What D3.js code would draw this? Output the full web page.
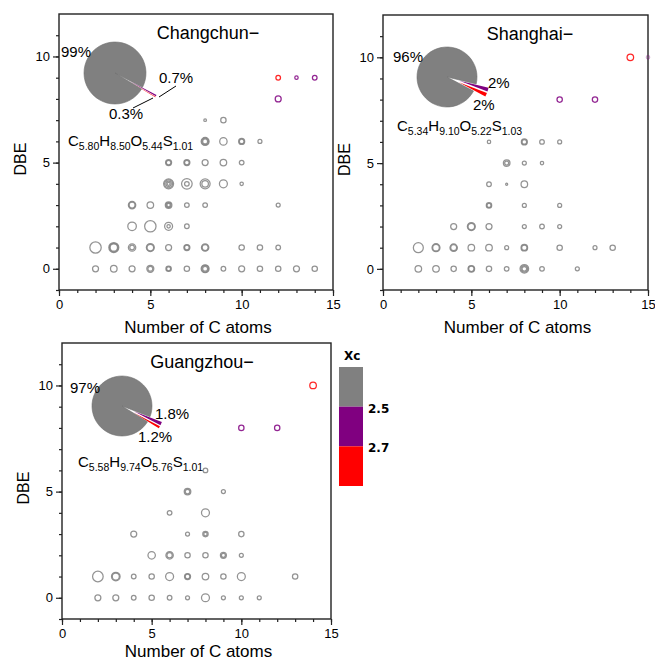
<!DOCTYPE html>
<html>
<head>
<meta charset="utf-8">
<title>DBE vs C atoms</title>
<script src="https://d3js.org/d3.v7.min.js"></script>
<style>
  body { margin: 0; background: #fff; }
  svg { font-family: "Liberation Sans", Arial, sans-serif; }
</style>
</head>
<body>
<script>
// [C atoms, DBE, relative intensity, Xc]
const changchunPoints = [
  [2,0,25,2.3],[3,0,30,2.3],[4,0,25,2.3],[5,0,34,2.3],[5,0,17,2.3],[6,0,20,2.3],[6,0,11,2.3],[7,0,20,2.3],
  [8,0,44,2.3],[8,0,30,2.3],[8,0,17,2.3],[9,0,15,2.3],[10,0,25,2.3],[11,0,20,2.3],[12,0,20,2.3],[13,0,25,2.3],[14,0,20,2.3],
  [2,1,90,2.3],[3,1,69,2.3],[3,1,51,2.3],[3,1,38,2.3],[4,1,38,2.3],[4,1,15,2.3],[5,1,44,2.3],[5,1,30,2.3],
  [6,1,25,2.3],[7,1,25,2.3],[7,1,15,2.3],[8,1,38,2.3],[8,1,25,2.3],[10,1,20,2.3],[11,1,20,2.3],[12,1,15,2.3],
  [4,2,51,2.3],[5,2,90,2.3],[6,2,44,2.3],[6,2,8,2.3],[7,2,15,2.3],
  [4,3,38,2.3],[4,3,25,2.3],[5,3,30,2.3],[6,3,30,2.3],[6,3,17,2.3],[6,3,8,2.3],[7,3,15,2.3],[8,3,15,2.3],[12,3,11,2.3],
  [6,4,69,2.3],[6,4,44,2.3],[6,4,20,2.3],[6,4,6,2.3],[7,4,78,2.3],[7,4,15,2.3],[8,4,69,2.3],[8,4,30,2.3],[9,4,44,2.3],[10,4,8,2.3],
  [6,5,25,2.3],[6,5,15,2.3],[7,5,25,2.3],[7,5,15,2.3],[8,5,25,2.3],[9,5,30,2.3],[10,5,15,2.3],
  [8,6,44,2.3],[8,6,30,2.3],[8,6,17,2.3],[9,6,38,2.3],[10,6,25,2.3],[10,6,15,2.3],[11,6,11,2.3],
  [8,7,5,2.3],[9,7,20,2.3],
  [12,8,25,2.6],
  [12,9,15,2.8],[13,9,8,2.6],[14,9,15,2.6]
];
const shanghaiPoints = [
  [2,0,30,2.3],[3,0,30,2.3],[4,0,20,2.3],[5,0,30,2.3],[5,0,20,2.3],[6,0,20,2.3],[7,0,15,2.3],[8,0,51,2.3],[8,0,30,2.3],[8,0,15,2.3],[9,0,15,2.3],[11,0,11,2.3],
  [2,1,69,2.3],[3,1,44,2.3],[3,1,30,2.3],[4,1,38,2.3],[4,1,25,2.3],[5,1,30,2.3],[6,1,30,2.3],[7,1,11,2.3],[8,1,30,2.3],[8,1,20,2.3],[10,1,20,2.3],[12,1,11,2.3],[13,1,20,2.3],
  [4,2,25,2.3],[5,2,44,2.3],[5,2,30,2.3],[6,2,25,2.3],[8,2,11,2.3],[9,2,15,2.3],[10,2,11,2.3],
  [6,3,20,2.3],[6,3,11,2.3],[8,3,11,2.3],[10,3,11,2.3],
  [6,4,15,2.3],[7,4,3,2.3],[8,4,30,2.3],
  [7,5,30,2.3],[7,5,11,2.3],[8,5,11,2.3],[9,5,8,2.3],
  [6,6,8,2.3],[8,6,25,2.3],[8,6,15,2.3],[9,6,15,2.3],[10,6,11,2.3],
  [10,8,20,2.6],[12,8,20,2.6],
  [14,10,30,2.8],[15,10,8,2.6]
];
const guangzhouPoints = [
  [2,0,25,2.3],[3,0,25,2.3],[4,0,15,2.3],[5,0,20,2.3],[6,0,15,2.3],[7,0,11,2.3],[8,0,44,2.3],[9,0,11,2.3],[10,0,11,2.3],[11,0,11,2.3],
  [2,1,78,2.3],[3,1,51,2.3],[3,1,34,2.3],[4,1,15,2.3],[5,1,20,2.3],[6,1,44,2.3],[7,1,25,2.3],[7,1,15,2.3],[8,1,30,2.3],[9,1,20,2.3],[10,1,44,2.3],[13,1,20,2.3],
  [5,2,38,2.3],[6,2,38,2.3],[6,2,20,2.3],[7,2,20,2.3],[8,2,20,2.3],[9,2,25,2.3],[9,2,11,2.3],[10,2,11,2.3],
  [4,3,25,2.3],[7,3,11,2.3],[8,3,20,2.3],[8,3,8,2.3],[10,3,20,2.3],
  [6,4,15,2.3],[8,4,44,2.3],
  [7,5,30,2.3],[7,5,15,2.3],[9,5,11,2.3],
  [8,6,15,2.3],
  [10,8,20,2.6],[12,8,20,2.6],
  [14,10,30,2.8]
];

// pie shares (%) : Xc<2.5, 2.5-2.7, >2.7
const changchunPie = [99, 0.7, 0.3];
const shanghaiPie = [96, 2, 2];
const guangzhouPie = [97, 1.8, 1.2];

// average formulas [element, subscript]
const changchunFormula = [["C","5.80"],["H","8.50"],["O","5.44"],["S","1.01"]];
const shanghaiFormula = [["C","5.34"],["H","9.10"],["O","5.22"],["S","1.03"]];
const guangzhouFormula = [["C","5.58"],["H","9.74"],["O","5.76"],["S","1.01"]];

const xTicks = [0, 5, 10, 15];
const yTicks = [0, 5, 10];
const xcBreaks = [2.5, 2.7];
const xcColors = ["#808080", "#800080", "#ff0000"];

const W = 655, H = 661;
const svg = d3.select("body").append("svg").attr("width", W).attr("height", H);

const color = d3.scaleThreshold().domain(xcBreaks).range(xcColors);
const rScale = d3.scaleSqrt().domain([0, 100]).range([0, 6]);

function drawPanel(p) {
  const x = d3.scaleLinear().domain([0, 15]).range([p.left, p.right]);
  const y = d3.scaleLinear().domain([-1, 12]).range([p.bottom, p.top]);
  const g = svg.append("g");

  // minor + major ticks
  g.append("g").attr("transform", `translate(0,${p.bottom})`)
    .call(d3.axisBottom(x).tickValues(d3.range(0, 16)).tickSize(3).tickFormat(""))
    .call(a => a.select(".domain").remove());
  g.append("g").attr("transform", `translate(0,${p.bottom})`)
    .call(d3.axisBottom(x).tickValues(xTicks).tickSize(6).tickPadding(4))
    .call(a => a.select(".domain").remove())
    .call(a => a.selectAll("text").attr("font-size", 13).attr("fill", "#000").attr("font-family", "Liberation Sans, Arial"));
  g.append("g").attr("transform", `translate(${p.left},0)`)
    .call(d3.axisLeft(y).tickValues(d3.range(-1, 12)).tickSize(3).tickFormat(""))
    .call(a => a.select(".domain").remove());
  g.append("g").attr("transform", `translate(${p.left},0)`)
    .call(d3.axisLeft(y).tickValues(yTicks).tickSize(6).tickPadding(3))
    .call(a => a.select(".domain").remove())
    .call(a => a.selectAll("text").attr("font-size", 13).attr("fill", "#000").attr("font-family", "Liberation Sans, Arial"));
  g.selectAll(".tick line").attr("stroke", "#222").attr("stroke-width", 1.2);

  g.append("rect")
    .attr("x", p.left).attr("y", p.top)
    .attr("width", p.right - p.left).attr("height", p.bottom - p.top)
    .attr("fill", "none").attr("stroke", "#222").attr("stroke-width", 1.4);

  // bubbles
  g.append("g").selectAll("circle")
    .data(p.points)
    .join("circle")
    .attr("cx", d => x(d[0]))
    .attr("cy", d => y(d[1]))
    .attr("r", d => rScale(d[2]))
    .attr("fill", "none")
    .attr("stroke", d => color(d[3]))
    .attr("stroke-opacity", d => d[0] > 14 ? 0.35 : 0.85)
    .attr("stroke-width", 1.25);

  // title
  g.append("text").attr("x", p.titleX).attr("y", p.top + 25)
    .attr("text-anchor", "middle").attr("font-size", 18).text(p.title);

  // axis titles
  g.append("text").attr("x", (p.left + p.right) / 2 + 2).attr("y", p.bottom + p.xTitleGap)
    .attr("text-anchor", "middle").attr("font-size", 17).text("Number of C atoms");
  g.append("text")
    .attr("transform", `translate(${p.left - 33},${(p.top + p.bottom) / 2 + 7}) rotate(-90)`)
    .attr("text-anchor", "middle").attr("font-size", 16).text("DBE");

  // pie
  const pie = d3.pie().sort(null).value(d => d)
    .startAngle(p.pieStart).endAngle(p.pieStart + 2 * Math.PI);
  const slices = pie([p.pie[1], p.pie[2], p.pie[0]]);
  const sliceColors = [xcColors[1], xcColors[2], xcColors[0]];
  const arc = d3.arc().innerRadius(0).outerRadius(p.pieR);
  const pg = g.append("g").attr("transform", `translate(${p.cx},${p.cy})`);
  pg.selectAll("path")
    .data(slices)
    .join("path")
    .attr("d", arc)
    .attr("transform", (d, i) => {
      if (i === 2) return null;
      const a = (d.startAngle + d.endAngle) / 2;
      return `translate(${Math.sin(a) * p.explode},${-Math.cos(a) * p.explode})`;
    })
    .attr("fill", (d, i) => sliceColors[i])
    .attr("stroke", (d, i) => i === 2 ? "#6e6e6e" : "none")
    .attr("stroke-width", 0.6);

  const labelVals = [p.pie[0], p.pie[1], p.pie[2]];
  p.pieLabels.forEach((o, i) => {
    pg.append("text").attr("x", o[0]).attr("y", o[1])
      .attr("font-size", 15).text(labelVals[i] + "%");
  });
  (p.leaders || []).forEach(l => {
    pg.append("line").attr("x1", l[0]).attr("y1", l[1]).attr("x2", l[2]).attr("y2", l[3])
      .attr("stroke", "#000").attr("stroke-width", 1);
  });

  // formula
  const ft = g.append("text").attr("x", p.fx).attr("y", p.fy).attr("font-size", 15);
  p.formula.forEach((f, i) => {
    ft.append("tspan").attr("dy", i === 0 ? 0 : -4).text(f[0]);
    ft.append("tspan").attr("font-size", 10.5).attr("dy", 4).text(f[1]);
  });
}

const deg = Math.PI / 180;

drawPanel({
  title: "Changchun\u2212", titleX: 208,
  left: 59, right: 333, top: 14, bottom: 290, xTitleGap: 43,
  points: changchunPoints, pie: changchunPie,
  cx: 115, cy: 73, pieR: 31, explode: 16, pieStart: 117.5 * deg,
  pieLabels: [[-54, -16], [44, 10], [-6, 46]],
  leaders: [[44, 24, 61, 13], [38, 25, 18, 35]],
  formula: changchunFormula, fx: 68, fy: 146
});
drawPanel({
  title: "Shanghai\u2212", titleX: 530,
  left: 383, right: 648, top: 15, bottom: 290, xTitleGap: 43,
  points: shanghaiPoints, pie: shanghaiPie,
  cx: 447, cy: 77, pieR: 30, explode: 13, pieStart: 103.5 * deg,
  pieLabels: [[-54, -15], [41, 11], [26, 33]],
  formula: shanghaiFormula, fx: 397, fy: 131
});
drawPanel({
  title: "Guangzhou\u2212", titleX: 202,
  left: 62, right: 331, top: 343, bottom: 619, xTitleGap: 38,
  points: guangzhouPoints, pie: guangzhouPie,
  cx: 122, cy: 406, pieR: 30, explode: 13, pieStart: 111 * deg,
  pieLabels: [[-52, -13], [33, 13], [16, 36]],
  formula: guangzhouFormula, fx: 78, fy: 467
});

// Xc legend
const legY = d3.scaleLinear().domain([0, 3]).range([367, 486]);
const leg = svg.append("g").attr("font-family", "DejaVu Sans, Verdana, sans-serif").attr("font-weight", "bold");
leg.selectAll("rect")
  .data(xcColors)
  .join("rect")
  .attr("x", 339).attr("width", 24)
  .attr("y", (d, i) => legY(i))
  .attr("height", (d, i) => legY(i + 1) - legY(i))
  .attr("fill", d => d);
leg.append("text").attr("x", 344).attr("y", 360).attr("font-size", 12).text("Xc");
leg.selectAll(".lab")
  .data(xcBreaks)
  .join("text")
  .attr("class", "lab")
  .attr("x", 368)
  .attr("y", (d, i) => legY(i + 1) + 6)
  .attr("font-size", 12)
  .text(d => d);
</script>
</body>
</html>
